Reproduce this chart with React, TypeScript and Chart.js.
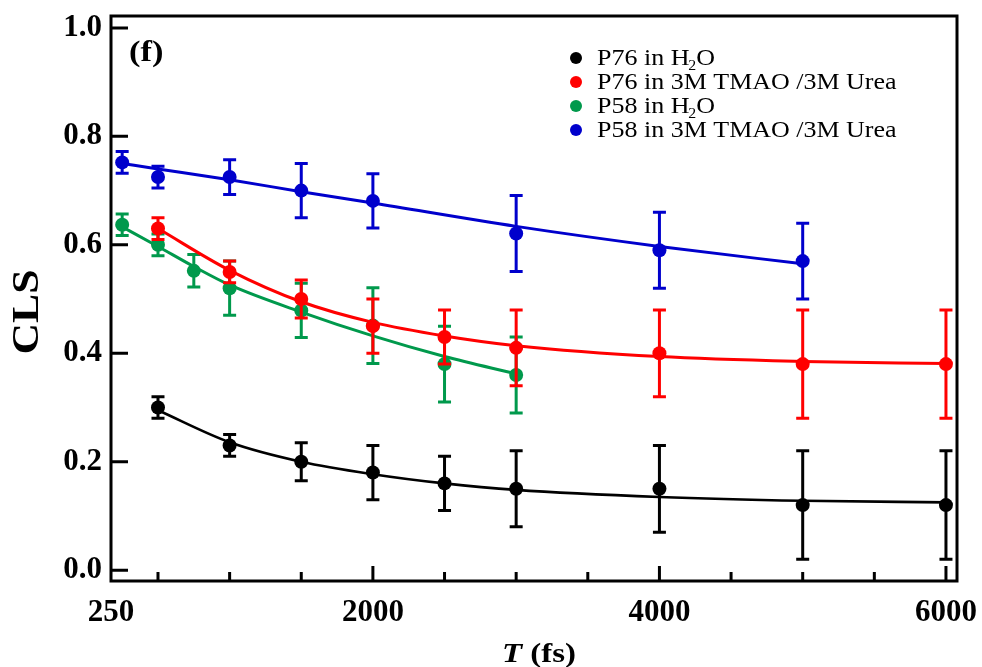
import React, { useEffect, useRef } from "react";
import { Chart, registerables } from "chart.js";

Chart.register(...registerables);

// ---------- data ----------
const SERIES_NAMES = [
  "P76 in H₂O",
  "P76 in 3M TMAO /3M Urea",
  "P58 in H₂O",
  "P58 in 3M TMAO /3M Urea",
];
const SERIES_COLORS = ["#000000", "#ff0000", "#00994c", "#0000cc"];

// P76 (times in fs)
const P76_T = [500, 1000, 1500, 2000, 2500, 3000, 4000, 5000, 6000];
const P76_H2O = [0.3, 0.23, 0.2, 0.18, 0.16, 0.15, 0.15, 0.12, 0.12];
const P76_H2O_ERR = [0.02, 0.02, 0.035, 0.05, 0.05, 0.07, 0.08, 0.1, 0.1];
const P76_H2O_FIT = [0.295, 0.236, 0.2, 0.177, 0.16, 0.148, 0.135, 0.128, 0.125];

const P76_MIX = [0.63, 0.55, 0.5, 0.45, 0.43, 0.41, 0.4, 0.38, 0.38];
const P76_MIX_ERR = [0.02, 0.02, 0.035, 0.05, 0.05, 0.07, 0.08, 0.1, 0.1];
const P76_MIX_FIT = [0.63, 0.553, 0.495, 0.457, 0.432, 0.414, 0.394, 0.385, 0.381];

// P58
const P58_H2O_T = [250, 500, 750, 1000, 1500, 2000, 2500, 3000];
const P58_H2O = [0.637, 0.6, 0.552, 0.52, 0.479, 0.451, 0.38, 0.36];
const P58_H2O_ERR = [0.02, 0.02, 0.03, 0.05, 0.05, 0.07, 0.07, 0.07];
const P58_H2O_FIT = [0.633, 0.597, 0.56, 0.526, 0.476, 0.432, 0.394, 0.362];

const P58_MIX_T = [250, 500, 1000, 1500, 2000, 3000, 4000, 5000];
const P58_MIX = [0.752, 0.725, 0.725, 0.7, 0.681, 0.621, 0.59, 0.57];
const P58_MIX_ERR = [0.02, 0.02, 0.032, 0.05, 0.05, 0.07, 0.07, 0.07];
const P58_MIX_FIT = [0.75, 0.74, 0.72, 0.698, 0.677, 0.634, 0.597, 0.565];

// axes
const X_MIN = 172;
const X_MAX = 6077;
const Y_MIN = -0.02;
const Y_MAX = 1.022;
const X_LABEL_VALUES = [X_MIN, 2000, 4000, 6000];
const X_LABELS = ["250", "2000", "4000", "6000"];
const X_MAJOR_TICKS = [2000, 4000, 6000];
const X_MINOR_TICKS = [500, 1000, 1500, 2500, 3000, 3500, 4500, 5000, 5500];
const Y_TICKS = [0, 0.2, 0.4, 0.6, 0.8, 1.0];

const Y_TITLE = "CLS";
const X_TITLE_VAR = "T";
const X_TITLE_UNIT = " (fs)";
const PANEL_LABEL = "(f)";

const SERIF = '"Liberation Serif", "Times New Roman", serif';

const toPts = (xs: number[], ys: number[]) => xs.map((x, i) => ({ x, y: ys[i] }));

function drawRich(ctx: CanvasRenderingContext2D, text: string, x: number, y: number, size: number, sx: number) {
  ctx.save();
  ctx.translate(x, y);
  ctx.scale(sx, 1);
  const parts = text.split("₂");
  let cx = 0;
  parts.forEach((p, i) => {
    ctx.font = `${size}px ${SERIF}`;
    ctx.fillText(p, cx, 0);
    cx += ctx.measureText(p).width;
    if (i < parts.length - 1) {
      ctx.font = `${Math.round(size * 0.62)}px ${SERIF}`;
      ctx.fillText("2", cx - 1, size * 0.2);
      cx += ctx.measureText("2").width - 1;
    }
  });
  ctx.restore();
}

const customPlugin = {
  id: "customDecor",
  beforeDatasetDraw(chart: any, args: any) {
    const ds = chart.data.datasets[args.index];
    if (!ds.errors) return;
    const ctx: CanvasRenderingContext2D = chart.ctx;
    const ys = chart.scales.y;
    const ca = chart.chartArea;
    ctx.save();
    ctx.beginPath();
    ctx.rect(ca.left, ca.top, ca.right - ca.left, ca.bottom - ca.top);
    ctx.clip();
    ctx.strokeStyle = ds.backgroundColor;
    ctx.lineWidth = 3;
    const cap = 6.5;
    args.meta.data.forEach((pt: any, i: number) => {
      const v = ds.data[i].y;
      const e = ds.errors[i];
      const top = ys.getPixelForValue(v + e);
      const bot = ys.getPixelForValue(v - e);
      const x = pt.x;
      ctx.beginPath();
      ctx.moveTo(x, top);
      ctx.lineTo(x, bot);
      ctx.moveTo(x - cap, top);
      ctx.lineTo(x + cap, top);
      ctx.moveTo(x - cap, bot);
      ctx.lineTo(x + cap, bot);
      ctx.stroke();
    });
    ctx.restore();
  },
  afterDraw(chart: any) {
    const ctx: CanvasRenderingContext2D = chart.ctx;
    const ca = chart.chartArea;
    const xs = chart.scales.x;
    const ys = chart.scales.y;
    ctx.save();
    ctx.strokeStyle = "#000";
    ctx.lineWidth = 3;
    // frame
    ctx.strokeRect(ca.left, ca.top, ca.right - ca.left, ca.bottom - ca.top);
    // inward ticks
    ctx.beginPath();
    X_MAJOR_TICKS.forEach((v) => {
      const px = xs.getPixelForValue(v);
      ctx.moveTo(px, ca.bottom);
      ctx.lineTo(px, ca.bottom - 15);
    });
    X_MINOR_TICKS.forEach((v) => {
      const px = xs.getPixelForValue(v);
      ctx.moveTo(px, ca.bottom);
      ctx.lineTo(px, ca.bottom - 9);
    });
    Y_TICKS.forEach((v) => {
      const py = ys.getPixelForValue(v);
      ctx.moveTo(ca.left, py);
      ctx.lineTo(ca.left + 17, py);
    });
    ctx.stroke();

    ctx.fillStyle = "#000";
    // panel label
    ctx.save();
    ctx.translate(ca.left + 18, ca.top + 45);
    ctx.scale(1.15, 1);
    ctx.font = `bold 30px ${SERIF}`;
    ctx.textBaseline = "alphabetic";
    ctx.textAlign = "left";
    ctx.fillText(PANEL_LABEL, 0, 0);
    ctx.restore();

    // y title
    ctx.save();
    ctx.translate(38, 312);
    ctx.rotate(-Math.PI / 2);
    ctx.scale(1.15, 1);
    ctx.font = `bold 38px ${SERIF}`;
    ctx.textAlign = "center";
    ctx.textBaseline = "alphabetic";
    ctx.fillText(Y_TITLE, 0, 0);
    ctx.restore();

    // x title
    ctx.save();
    ctx.translate(502, 662);
    ctx.scale(1.22, 1);
    ctx.textAlign = "left";
    ctx.textBaseline = "alphabetic";
    ctx.font = `italic bold 27px ${SERIF}`;
    ctx.fillText(X_TITLE_VAR, 0, 0);
    const w = ctx.measureText(X_TITLE_VAR).width;
    ctx.font = `bold 27px ${SERIF}`;
    ctx.fillText(X_TITLE_UNIT, w, 0);
    ctx.restore();

    // legend
    ctx.textAlign = "left";
    ctx.textBaseline = "alphabetic";
    SERIES_NAMES.forEach((name, i) => {
      const base = 65 + i * 24;
      ctx.fillStyle = SERIES_COLORS[i];
      ctx.beginPath();
      ctx.arc(576, base - 7, 6, 0, Math.PI * 2);
      ctx.fill();
      ctx.fillStyle = "#000";
      drawRich(ctx, name, 597, base, 23, 1.13);
    });
    ctx.restore();
  },
};

export default function App() {
  const ref = useRef<HTMLCanvasElement | null>(null);

  useEffect(() => {
    if (!ref.current) return;
    const fit = (xsArr: number[], ysArr: number[], color: string, order: number, width: number) => ({
      type: "line",
      data: toPts(xsArr, ysArr),
      borderColor: color,
      borderWidth: width,
      pointRadius: 0,
      fill: false,
      cubicInterpolationMode: "monotone",
      order,
    });
    const pts = (xsArr: number[], ysArr: number[], err: number[], color: string, order: number, label: string) => ({
      type: "scatter",
      label,
      data: toPts(xsArr, ysArr),
      errors: err,
      backgroundColor: color,
      borderColor: color,
      borderWidth: 0,
      pointRadius: 7,
      pointHoverRadius: 7,
      showLine: false,
      order,
    });

    const chart = new Chart(ref.current, {
      type: "scatter",
      data: {
        datasets: [
          pts(P58_MIX_T, P58_MIX, P58_MIX_ERR, SERIES_COLORS[3], 1, SERIES_NAMES[3]),
          fit(P58_MIX_T, P58_MIX_FIT, SERIES_COLORS[3], 2, 3),
          pts(P76_T, P76_H2O, P76_H2O_ERR, SERIES_COLORS[0], 3, SERIES_NAMES[0]),
          fit(P76_T, P76_H2O_FIT, SERIES_COLORS[0], 4, 2.6),
          pts(P76_T, P76_MIX, P76_MIX_ERR, SERIES_COLORS[1], 5, SERIES_NAMES[1]),
          fit(P76_T, P76_MIX_FIT, SERIES_COLORS[1], 6, 3),
          pts(P58_H2O_T, P58_H2O, P58_H2O_ERR, SERIES_COLORS[2], 7, SERIES_NAMES[2]),
          fit(P58_H2O_T, P58_H2O_FIT, SERIES_COLORS[2], 8, 3),
        ] as any,
      },
      options: {
        animation: false,
        responsive: false,
        maintainAspectRatio: false,
        layout: { padding: { left: 0, top: 16, right: 25, bottom: 0 } },
        plugins: {
          legend: { display: false },
          tooltip: { enabled: false },
        },
        scales: {
          x: {
            type: "linear",
            min: X_MIN,
            max: X_MAX,
            grid: { display: false, drawTicks: false },
            border: { display: false },
            afterBuildTicks: (scale: any) => {
              scale.ticks = X_LABEL_VALUES.map((v) => ({ value: v }));
            },
            afterFit: (scale: any) => {
              scale.height = 86;
              scale.paddingLeft = 0;
              scale.paddingRight = 0;
            },
            ticks: {
              autoSkip: false,
              maxRotation: 0,
              minRotation: 0,
              padding: 13,
              color: "#000",
              font: { family: SERIF, size: 31, weight: "bold" },
              callback: (value: any) => {
                const idx = X_LABEL_VALUES.indexOf(Number(value));
                return idx >= 0 ? X_LABELS[idx] : "";
              },
            },
          },
          y: {
            type: "linear",
            min: Y_MIN,
            max: Y_MAX,
            grid: { display: false, drawTicks: false },
            border: { display: false },
            afterBuildTicks: (scale: any) => {
              scale.ticks = Y_TICKS.map((v) => ({ value: v }));
            },
            afterFit: (scale: any) => {
              scale.width = 111;
              scale.paddingTop = 0;
              scale.paddingBottom = 0;
            },
            ticks: {
              padding: 9,
              color: "#000",
              font: { family: SERIF, size: 31, weight: "bold" },
              callback: (value: any) => Number(value).toFixed(1),
            },
          },
        },
      } as any,
      plugins: [customPlugin as any],
    });
    return () => chart.destroy();
  }, []);

  return (
    <div style={{ position: "fixed", left: 0, top: 0, width: 982, height: 667, background: "#fff" }}>
      <canvas ref={ref} width={982} height={667} style={{ display: "block" }} />
    </div>
  );
}
